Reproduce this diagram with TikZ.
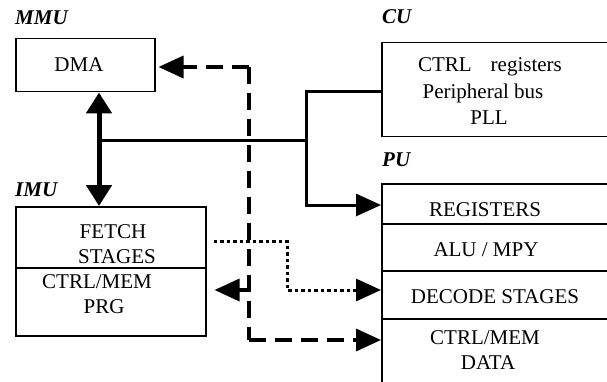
\documentclass[tikz,border=0pt]{standalone}
\usepackage{fontspec}
\setmainfont{Liberation Serif}
\usetikzlibrary{arrows.meta}
\begin{document}
\begin{tikzpicture}[x=1pt,y=-1pt,
  font=\fontsize{21}{26}\selectfont,
  box/.style={draw, line width=1.5pt, inner sep=0pt, anchor=north west},
  txt/.style={inner sep=0pt, align=center},
  lbl/.style={inner sep=0pt, anchor=west, font=\fontsize{21}{26}\selectfont\bfseries\itshape},
  bigtip/.style={-{Triangle[length=25pt,width=22pt]}},
  dsh/.style={line width=3.5pt, dash pattern=on 17pt off 9pt},
  dtt/.style={line width=3pt, dash pattern=on 3.5pt off 3pt},
  bus/.style={line width=3pt}]
\useasboundingbox (0,0) rectangle (607,382);
\clip (0,0) rectangle (607,382);
% labels
\node[lbl] (lmmu) at (15,18) {MMU};
\node[lbl] (lcu) at (382,17) {CU};
\node[lbl] (lpu) at (382,160) {PU};
\node[lbl] (limu) at (15,190) {IMU};
% boxes
\node[box, minimum width=139pt, minimum height=53pt] (dma) at (15,38) {};
\node[txt] (tdma) at (79,65) {DMA};
\node[box, minimum width=240pt, minimum height=94pt] (cu) at (381,42) {};
\node[txt] (tcu1) at (490,67) {CTRL\hspace{0.9em}registers};
\node[txt] (tcu2) at (483,93) {Peripheral bus};
\node[txt] (tcu3) at (489,118) {PLL};
\node[box, minimum width=190pt, minimum height=61pt] (fetch) at (15,206) {};
\node[box, minimum width=190pt, minimum height=68pt] (prg) at (15,267) {};
\node[txt] (tf1) at (113,232) {FETCH};
\node[txt] (tf2) at (117,257) {STAGES};
\node[txt] (tp1) at (97,282) {CTRL/MEM};
\node[txt] (tp2) at (104,307) {PRG};
\node[box, minimum width=240pt, minimum height=40pt] (reg) at (381,183) {};
\node[box, minimum width=240pt, minimum height=47pt] (alu) at (381,223) {};
\node[box, minimum width=240pt, minimum height=48pt] (dec) at (381,270) {};
\node[box, minimum width=240pt, minimum height=80pt] (data) at (381,318) {};
\node[txt] (treg) at (485,210) {REGISTERS};
\node[txt] (talu) at (486,250) {ALU / MPY};
\node[txt] (tdec) at (495,297) {DECODE STAGES};
\node[txt] (tdat1) at (485,338) {CTRL/MEM};
\node[txt] (tdat2) at (488,363) {DATA};
% junctions
\coordinate (j1) at (99,141);
\coordinate (j2) at (306,141);
\coordinate (j3) at (306,92);
\coordinate (j4) at (306,205);
\coordinate (d1) at (249,67);
\coordinate (d2) at (249,290);
\coordinate (d3) at (249,340);
\coordinate (p1) at (287,241);
\coordinate (p2) at (287,290);
% thick double arrow
\draw[line width=5pt, {Triangle[length=21pt,width=25pt]}-{Triangle[length=21pt,width=25pt]}]
  (j1 |- dma.south) -- (j1 |- fetch.north);
% bus
\draw[bus] (j1) -- (j2);
\draw[bus, bigtip] (j3 -| cu.west) -- (j3) -- (j4) -- (j4 -| reg.west);
% dashed
\draw[dsh] (d1) -- (d3);
\draw[dsh, bigtip, shorten >=3pt] (d1) -- (d1 -| dma.east);
\draw[dsh, bigtip, shorten >=8pt] (d2) -- (d2 -| prg.east);
\draw[dsh, bigtip] (d3) -- (d3 -| data.west);
% dotted
\draw[dtt, bigtip, shorten <=7pt] (p1 -| fetch.east) -- (p1) -- (p2) -- (p2 -| dec.west);
\end{tikzpicture}
\end{document}
